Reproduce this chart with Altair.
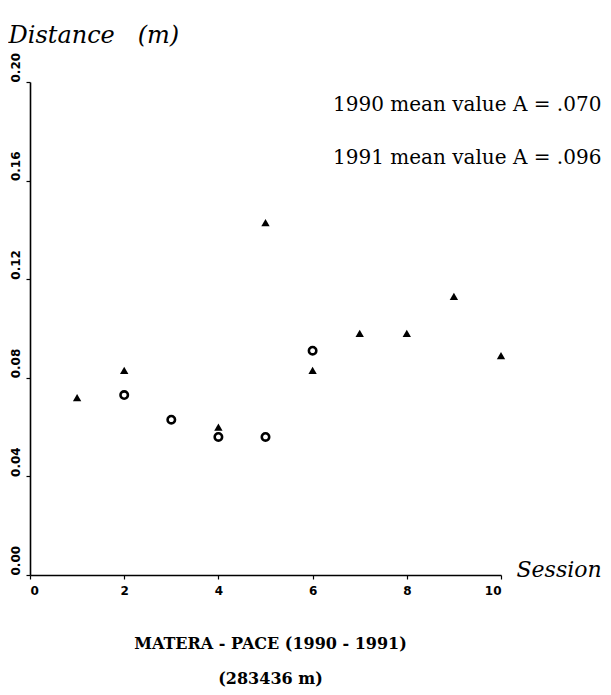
import altair as alt
import pandas as pd

# ---- data ----
sessions_1990 = [2, 3, 4, 5, 6]
distance_1990 = [0.073, 0.063, 0.056, 0.056, 0.091]
sessions_1991 = [1, 2, 4, 5, 6, 7, 8, 9, 10]
distance_1991 = [0.072, 0.083, 0.060, 0.143, 0.083, 0.098, 0.098, 0.113, 0.089]
x_ticks = [0, 2, 4, 6, 8, 10]
y_ticks = [0.0, 0.04, 0.08, 0.12, 0.16, 0.20]
mean_lines = ["1990 mean value A = .070", "1991 mean value A = .096"]
title_lines = ["MATERA - PACE (1990 - 1991)", "(283436 m)"]

df = pd.DataFrame({
    "session": sessions_1990 + sessions_1991,
    "distance": distance_1990 + distance_1991,
    "year": ["1990"] * len(sessions_1990) + ["1991"] * len(sessions_1991),
})

W, H = 471, 493
SERIF = "DejaVu Serif"
SANS = "DejaVu Sans"

x_enc = alt.X(
    "session:Q",
    scale=alt.Scale(domain=[0, 10], nice=False, zero=True),
    axis=alt.Axis(
        values=x_ticks, format="d", grid=False,
        title="Session", titleFont=SERIF, titleFontStyle="italic",
        titleFontWeight="normal", titleFontSize=22, titleColor="black",
        titleAngle=0, titleAlign="left", titleBaseline="middle",
        titleX=W + 15, titleY=-6,
        labelFont=SANS, labelFontWeight="bold", labelFontSize=12,
        labelColor="black", labelPadding=6,
        domainColor="black", domainWidth=1.6,
        tickColor="black", tickSize=4, tickWidth=1.2,
    ),
)
y_enc = alt.Y(
    "distance:Q",
    scale=alt.Scale(domain=[0, 0.2], nice=False, zero=True),
    axis=alt.Axis(
        values=y_ticks, format=".2f", grid=False,
        title="Distance\u00a0\u00a0\u00a0(m)", titleFont=SERIF, titleFontStyle="italic",
        titleFontWeight="normal", titleFontSize=24, titleColor="black",
        titleAngle=0, titleAlign="left", titleBaseline="middle",
        titleX=-22, titleY=-47,
        labelFont=SANS, labelFontWeight="bold", labelFontSize=12,
        labelColor="black", labelAngle=270, labelAlign="left",
        labelBaseline="bottom", labelPadding=4,
        domainColor="black", domainWidth=1.6,
        tickColor="black", tickSize=4, tickWidth=1.2,
    ),
)

base = alt.Chart(df)

circles = base.transform_filter(alt.datum.year == "1990").mark_point(
    shape="circle", filled=False, color="black", strokeWidth=2.6, size=55,
    opacity=1
).encode(x=x_enc, y=y_enc)

triangles = base.transform_filter(alt.datum.year == "1991").mark_point(
    shape="triangle-up", filled=True, color="black", size=70, opacity=1
).encode(x=x_enc, y=y_enc)

mean1 = alt.Chart(pd.DataFrame({"label": [mean_lines[0]]})).mark_text(
    font=SERIF, fontSize=20, align="left", baseline="middle", color="black"
).encode(x=alt.value(303), y=alt.value(23), text="label:N")
mean2 = alt.Chart(pd.DataFrame({"label": [mean_lines[1]]})).mark_text(
    font=SERIF, fontSize=20, align="left", baseline="middle", color="black"
).encode(x=alt.value(303), y=alt.value(76), text="label:N")

chart = alt.layer(circles, triangles, mean1, mean2).properties(
    width=W, height=H,
    autosize=alt.AutoSizeParams(type="none"),
    padding={"left": 22, "top": 74, "right": 102, "bottom": 112},
    background="white",
    title=alt.TitleParams(
        text=title_lines[0], subtitle=title_lines[1], orient="bottom",
        anchor="middle", font=SERIF, fontSize=16, fontWeight="bold",
        subtitleFont=SERIF, subtitleFontSize=16, subtitleFontWeight="bold",
        color="black", subtitleColor="black", subtitlePadding=19, offset=40,
        dx=5,
    ),
).configure_view(stroke=None)

chart.save("out.html", embed_options={"renderer": "svg", "actions": False})
